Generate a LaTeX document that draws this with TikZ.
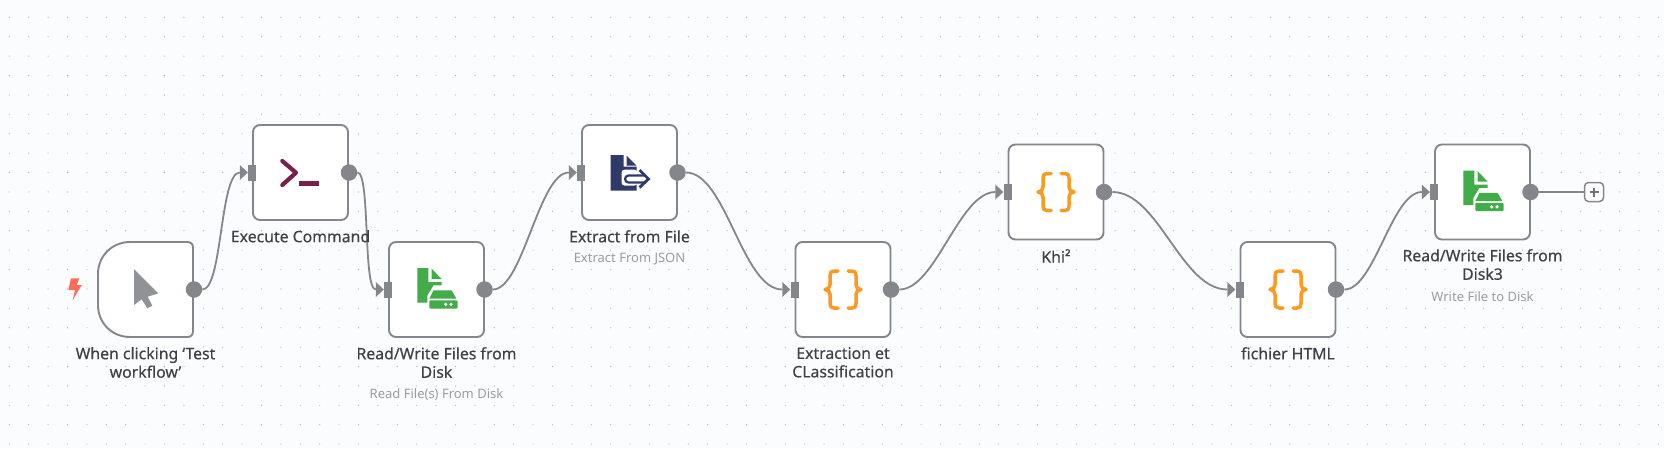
\documentclass[tikz,border=0pt]{standalone}
\usepackage{fontspec}
\setmainfont{Noto Sans}
\newfontfamily\medfont[FakeBold=0.3]{Noto Sans}
\definecolor{bgc}{HTML}{FBFCFE}
\definecolor{edgec}{HTML}{84868B}
\definecolor{labc}{HTML}{3F4147}
\definecolor{subc}{HTML}{9A9CA1}
\definecolor{greenc}{HTML}{42AC49}
\definecolor{navyc}{HTML}{2F3A6B}
\definecolor{orangec}{HTML}{FF9922}
\definecolor{termc}{HTML}{7A2048}
\definecolor{boltc}{HTML}{FF6D5A}
\definecolor{cursorc}{HTML}{909298}
\definecolor{plusc}{HTML}{6F7176}
\tikzset{
 x=1pt,y=-1pt,
 nodebox/.style={draw=edgec,line width=1.9pt,fill=white,rounded corners=7pt,minimum width=95pt,minimum height=95pt,inner sep=0pt},
 outdot/.style={circle,fill=edgec,minimum size=16.5pt,inner sep=0pt},
 inport/.style={fill=edgec,minimum width=8pt,minimum height=16pt,inner sep=0pt},
 link/.style={draw=edgec,line width=1.8pt},
 label/.style={text=labc,font=\fontsize{15.8}{18.5}\selectfont\medfont,align=center,anchor=north,inner sep=0pt},
 sublabel/.style={text=subc,font=\fontsize{13}{15}\selectfont,anchor=north,inner sep=0pt},
}
\newcommand{\inarrow}[1]{\fill[edgec] ([xshift=-8pt,yshift=-7.5pt]#1.west) -- (#1.west) -- ([xshift=-8pt,yshift=7.5pt]#1.west) -- cycle;}
\newcommand{\diskicon}[2]{\begin{scope}[shift={(#1,#2)},greenc]
 \fill (-19.2,-21.5) -- (-8.2,-21.5) -- (-8.2,-7.5) -- (5,-7.5) -- (5,-4.2) -- (-3,-4.2) -- (-9.2,6) -- (-9.2,13.2) -- (-19.2,13.2) -- cycle;
 \fill (-5,-21) -- (5,-10.5) -- (-5,-10.5) -- cycle;
 \fill (-3,0.8) -- (15,0.8) -- (20,9.2) -- (-7.2,9.2) -- cycle;
 \fill[rounded corners=1pt] (-7.2,10.8) rectangle (21,19);
 \fill[white] (9.2,14.8) circle (1.8) (14.5,14.8) circle (1.8);
\end{scope}}
\newcommand{\curlyicon}[2]{\begin{scope}[shift={(#1,#2)}]
 \draw[orangec,line width=3.5pt,line cap=round,line join=round] (-5,-18.5) -- (-9,-18.5) .. controls (-12,-18.5) and (-13,-17) .. (-13,-14) -- (-13,-5) .. controls (-13,-2) and (-15,0) .. (-18,0) .. controls (-15,0) and (-13,2) .. (-13,5) -- (-13,14) .. controls (-13,17) and (-12,18.5) .. (-9,18.5) -- (-5,18.5);
 \draw[orangec,line width=3.5pt,line cap=round,line join=round] (5,-18.5) -- (9,-18.5) .. controls (12,-18.5) and (13,-17) .. (13,-14) -- (13,-5) .. controls (13,-2) and (15,0) .. (18,0) .. controls (15,0) and (13,2) .. (13,5) -- (13,14) .. controls (13,17) and (12,18.5) .. (9,18.5) -- (5,18.5);
\end{scope}}
\begin{document}
\begin{tikzpicture}
\useasboundingbox (0,0) rectangle (1664,448);
\fill[bgc] (0,0) rectangle (1664,448);
\foreach \i in {0,...,85}{\foreach \j in {0,...,22}{
 \fill[black!30] ({9.3+19.4*\i},{17.3+19.4*\j}) circle (0.6);}}
% boxes
\draw[edgec,line width=1.9pt,fill=white] (130,242) -- (187,242) .. controls (191,242) and (193,244) .. (193,248) -- (193,331) .. controls (193,335) and (191,337) .. (187,337) -- (130,337) .. controls (112,337) and (98,323) .. (98,305) -- (98,274) .. controls (98,256) and (112,242) .. (130,242) -- cycle;
\node[nodebox] (exec) at (300.5,172.5) {};
\node[nodebox] (rw) at (436.5,289.5) {};
\node[nodebox] (ext) at (629.5,172.5) {};
\node[nodebox] (cls) at (843,289.5) {};
\node[nodebox] (khi) at (1056,192) {};
\node[nodebox] (html) at (1288,289.5) {};
\node[nodebox] (rw3) at (1482.5,192) {};
% ports
\node[outdot] (o1) at (194,289.5) {};
\node[outdot] (o2) at (349,172.5) {};
\node[outdot] (o3) at (484.5,289.5) {};
\node[outdot] (o4) at (677.5,172.5) {};
\node[outdot] (o5) at (891,289.5) {};
\node[outdot] (o6) at (1104,192) {};
\node[outdot] (o7) at (1336,289.5) {};
\node[outdot] (o8) at (1530.5,192) {};
\node[inport] (i2) at (252,172.5) {};
\node[inport] (i3) at (388,289.5) {};
\node[inport] (i4) at (581,172.5) {};
\node[inport] (i5) at (794.5,289.5) {};
\node[inport] (i6) at (1007.5,192) {};
\node[inport] (i7) at (1239.5,289.5) {};
\node[inport] (i8) at (1434,192) {};
\foreach \n in {i2,i3,i4,i5,i6,i7,i8}{\inarrow{\n}}
% links
\foreach \a/\b/\d in {o1/i2/20,o2/i3/13,o3/i4/30,o4/i5/40,o5/i6/36,o6/i7/46,o7/i8/30}{
 \draw[link] (\a.east) to[out=0,in=180,out distance=\d pt,in distance=\d pt] ([xshift=-8pt]\b.west);}
\node[draw=edgec,line width=1.5pt,fill=white,rounded corners=4pt,minimum size=19pt,inner sep=0pt] (plus) at (1594,192) {};
\draw[link] (o8.center) -- (plus.west);
\draw[plusc,line width=1.8pt] (1589.5,192) -- (1598.5,192) (1594,187.5) -- (1594,196.5);
% icons
\fill[boltc] (71,278.3) -- (79.3,278.3) -- (76.7,285) -- (81.7,285) -- (72.7,300) -- (75,290) -- (68.3,290) -- cycle;
\fill[cursorc] (134,269) -- (158.3,293.3) -- (147.7,296.7) -- (152.3,305.7) -- (147.3,308.3) -- (141.7,299.3) -- (134,305) -- cycle;
\draw[termc,line width=4.2pt,line cap=round,line join=round] (282.3,161) -- (296,172.7) -- (282.3,185);
\draw[termc,line width=4.2pt] (299.3,183.5) -- (319.3,183.5);
\diskicon{436.5}{289.5}
\diskicon{1482.5}{192}
\begin{scope}[shift={(629.5,172.5)},navyc]
 \fill (-18.8,-17.5) -- (-6,-17.5) -- (-6,-5.8) -- (7,-5.8) -- (7,18) -- (-18.8,18) -- cycle;
 \fill (-3,-17) -- (7,-6.8) -- (-3,-6.8) -- cycle;
 \fill[white,rounded corners=3pt] (-8,-2.8) rectangle (8,13);
 \draw[line width=2.2pt] (16,3) -- (-1,3) .. controls (-5.5,3) and (-5.5,10) .. (-1,10) -- (16,10);
 \draw[line width=2.8pt] (10,-2.5) -- (19,6.5) -- (10,15);
\end{scope}
\curlyicon{843}{289.5}
\curlyicon{1056}{192}
\curlyicon{1288}{289.5}
% labels
\node[label] (l1) at (145.5,347) {When clicking ‘Test\\workflow’};
\node[label] (l2) at (300.5,230) {Execute Command};
\node[label] (l3) at (436.5,347) {Read/Write Files from\\Disk};
\node[sublabel] (s3) at (436.5,388) {Read File(s) From Disk};
\node[label] (l4) at (629.5,230) {Extract from File};
\node[sublabel] (s4) at (629.5,252.5) {Extract From JSON};
\node[label] (l5) at (843,347) {Extraction et\\CLassification};
\node[label] (l6) at (1056,249) {Khi²};
\node[label] (l7) at (1288,347) {fichier HTML};
\node[label] (l8) at (1482.5,249) {Read/Write Files from\\Disk3};
\node[sublabel] (s8) at (1482.5,291) {Write File to Disk};
\end{tikzpicture}
\end{document}
